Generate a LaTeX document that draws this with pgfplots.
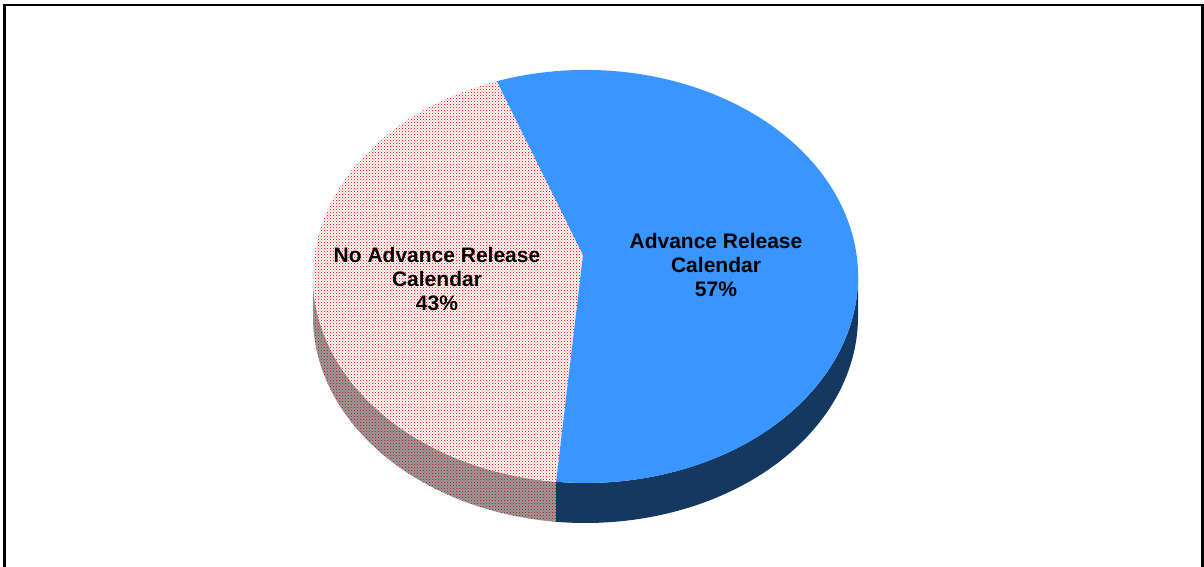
\documentclass[border=0pt]{standalone}
\usepackage{pgfplots}
\pgfplotsset{compat=1.18}
\usepackage{pgfplotstable}
\usepackage{fontspec}
\setmainfont{Liberation Sans}
\usetikzlibrary{patterns}
\definecolor{topblue}{RGB}{57,150,255}
\definecolor{sideblue}{RGB}{21,56,96}
\definecolor{pinkbase}{RGB}{255,246,246}
\definecolor{dotred}{RGB}{250,30,30}
\definecolor{sidegray}{RGB}{155,152,152}
\definecolor{dotdark}{RGB}{175,35,35}
\pgfdeclarepatternformonly{finedots}{\pgfqpoint{-0.1pt}{-0.1pt}}{\pgfqpoint{3.1pt}{3.1pt}}{\pgfqpoint{3pt}{3pt}}{%
 \pgfpathrectangle{\pgfqpoint{0pt}{0pt}}{\pgfqpoint{0.9pt}{0.9pt}}%
 \pgfpathrectangle{\pgfqpoint{1.5pt}{1.5pt}}{\pgfqpoint{0.9pt}{0.9pt}}%
 \pgfusepath{fill}}

\pgfplotstableread{
label value
Advance 57
NoAdvance 43
}\piedata

\begin{document}
\begin{tikzpicture}
\pgfplotstablegetelem{0}{value}\of\piedata \let\valA\pgfplotsretval
\pgfplotstablegetelem{1}{value}\of\piedata \let\valB\pgfplotsretval
\def\cx{585.5}\def\cy{290.5}\def\rx{272.5}\def\ry{206.5}\def\dep{40}
\def\pcx{583}\def\pcy{312}
\pgfmathsetmacro\aStart{109}
\pgfmathsetmacro\aEnd{\aStart-3.6*\valA}
\pgfmathsetmacro\aEndP{\aEnd+360}
\pgfmathsetmacro\xS{\cx+\rx*cos(\aStart)}
\pgfmathsetmacro\yS{\cy+\ry*sin(\aStart)}
\pgfmathsetmacro\xE{\cx+\rx*cos(\aEnd)}
\pgfmathsetmacro\yE{\cy+\ry*sin(\aEnd)}
\pgfmathsetmacro\xL{\cx-\rx}
\useasboundingbox (0,0) rectangle (1204pt,567pt);
\begin{axis}[at={(0,0)},anchor=south west, x=1pt,y=1pt,
  xmin=0,xmax=1204,ymin=0,ymax=567, hide axis, clip=false]
% sides
\path[fill=sidegray, postaction={pattern=finedots, pattern color=dotdark}]
  (axis cs:\xL,\cy) arc[start angle=180, end angle=\aEndP, x radius=\rx pt, y radius=\ry pt]
  -- ++(0,-\dep pt) arc[start angle=\aEndP, end angle=180, x radius=\rx pt, y radius=\ry pt] -- cycle;
\fill[sideblue]
  (axis cs:\xE,\yE) arc[start angle=\aEndP, end angle=360, x radius=\rx pt, y radius=\ry pt]
  -- ++(0,-\dep pt) arc[start angle=360, end angle=\aEndP, x radius=\rx pt, y radius=\ry pt] -- cycle;
% tops
\path[fill=pinkbase, postaction={pattern=finedots, pattern color=dotred}]
  (axis cs:\pcx,\pcy) -- (axis cs:\xS,\yS) arc[start angle=\aStart, end angle=\aEndP, x radius=\rx pt, y radius=\ry pt] -- cycle;
\fill[topblue]
  (axis cs:\pcx,\pcy) -- (axis cs:\xS,\yS) arc[start angle=\aStart, end angle=\aEnd, x radius=\rx pt, y radius=\ry pt] -- cycle;
% labels
\node[align=center, font=\fontsize{21}{24}\selectfont\bfseries] at (axis cs:437,288) {No Advance Release\\Calendar\\\valB\%};
\node[align=center, font=\fontsize{21}{24}\selectfont\bfseries] at (axis cs:716,302) {Advance Release\\Calendar\\\valA\%};
% frame
\draw[line width=2.5pt] (axis cs:4.5,-20) -- (axis cs:4.5,562) -- (axis cs:1202.5,562) -- (axis cs:1202.5,-20);
\end{axis}
\end{tikzpicture}
\end{document}
